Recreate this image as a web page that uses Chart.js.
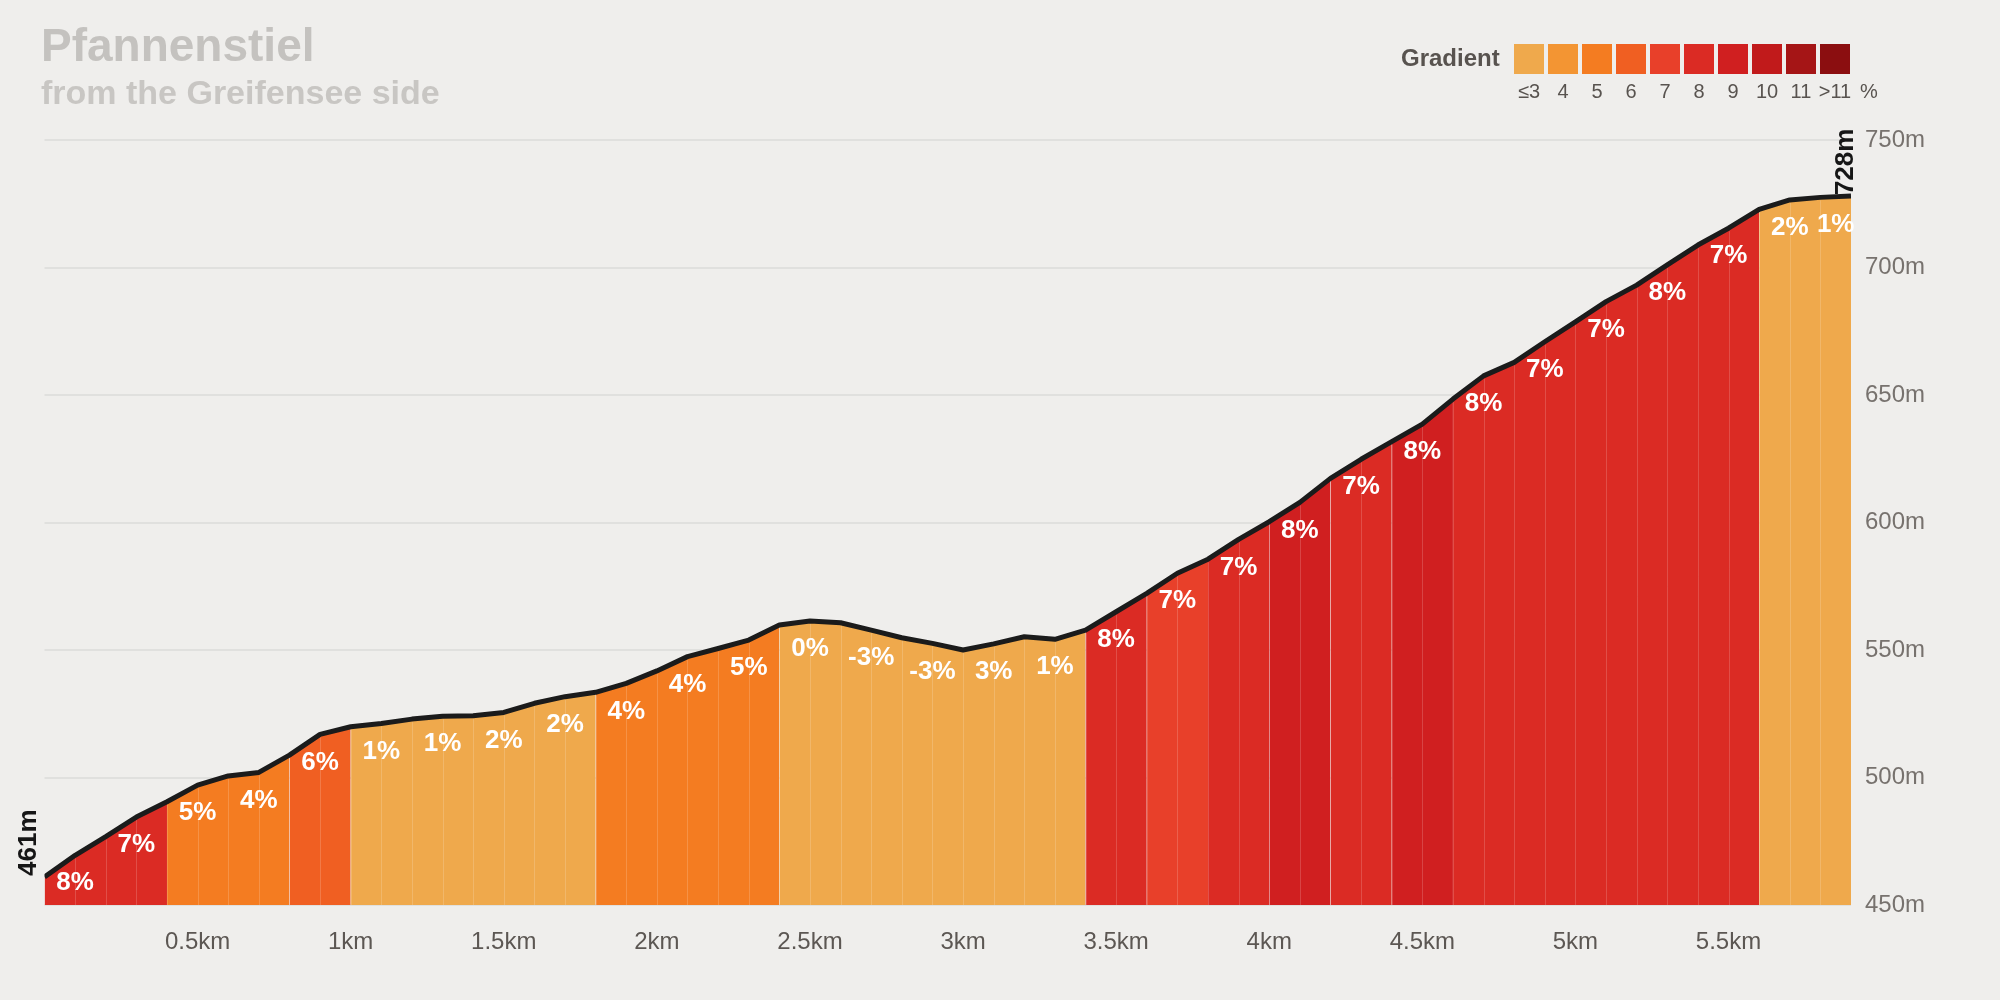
<!DOCTYPE html>
<html>
<head>
<meta charset="utf-8">
<title>Pfannenstiel</title>
<script src="https://cdn.jsdelivr.net/npm/chart.js@4.4.1/dist/chart.umd.min.js"></script>
<style>
    html, body { margin: 0; padding: 0; background: #efeeec; }
    #wrap {
        position: relative;
        width: 2000px;
        height: 1000px;
        font-family: 'Liberation Sans', Arial, Helvetica, sans-serif;
    }
    #profile { position: absolute; left: 0; top: 0; }
    .title, .subtitle, .legend-name, .legend-label {
        position: absolute;
        white-space: nowrap;
        font-weight: bold;
    }
    .title { left: 41px; top: 22px; font-size: 46px; line-height: 46px; color: #c4c2bf; }
    .subtitle { left: 41px; top: 75px; font-size: 34px; line-height: 34px; color: #c8c6c3; }
    .legend-name { left: 1401px; top: 46px; font-size: 24px; line-height: 24px; color: #58534f; }
    .legend-box { position: absolute; top: 44px; width: 30px; height: 30px; }
    .legend-label {
        top: 81px; width: 34px; text-align: center;
        font-size: 20px; line-height: 20px; font-weight: normal; color: #58534f;
    }
</style>
</head>
<body>
<div id="wrap">
    <canvas id="profile" width="2000" height="1000"></canvas>
    <div class="title">Pfannenstiel</div>
    <div class="subtitle">from the Greifensee side</div>
    <div class="legend-name">Gradient</div>
    <div id="legend"></div>
</div>
<script>
// ===== data =====

// distance along the climb (km), one point every 100 m
const distanceKm = [
    0.0, 0.1, 0.2, 0.3, 0.4, 0.5, 0.6, 0.7, 0.8, 0.9,
    1.0, 1.1, 1.2, 1.3, 1.4, 1.5, 1.6, 1.7, 1.8, 1.9,
    2.0, 2.1, 2.2, 2.3, 2.4, 2.5, 2.6, 2.7, 2.8, 2.9,
    3.0, 3.1, 3.2, 3.3, 3.4, 3.5, 3.6, 3.7, 3.8, 3.9,
    4.0, 4.1, 4.2, 4.3, 4.4, 4.5, 4.6, 4.7, 4.8, 4.9,
    5.0, 5.1, 5.2, 5.3, 5.4, 5.5, 5.6, 5.7, 5.8, 5.9
];

// elevation (m)
const elevationM = [
    461, 469.5, 476.8, 484.5, 490.5, 497, 500.6, 502, 508.8, 516.9,
    519.9, 521.2, 522.9, 524, 524.2, 525.5, 529.1, 531.7, 533.4, 536.9,
    541.8, 547.4, 550.6, 553.9, 559.8, 561.4, 560.7, 557.8, 554.8, 552.6,
    550, 552.4, 555.2, 554.2, 557.8, 565, 572.2, 580.1, 585.6, 593.4,
    600.3, 607.9, 617.3, 624.8, 631.7, 638.6, 648.4, 657.5, 662.8, 670.9,
    678.7, 686.6, 693.1, 701, 708.8, 715.4, 722.8, 726.5, 727.5, 728
];

// gradient sections
const sectionStartKm = [0, 0.2, 0.4, 0.6, 0.8, 1.0, 1.2, 1.4, 1.6, 1.8, 2.0, 2.2, 2.4, 2.6, 2.8,
                        3.0, 3.2, 3.4, 3.6, 3.8, 4.0, 4.2, 4.4, 4.6, 4.8, 5.0, 5.2, 5.4, 5.6, 5.8];
const sectionEndKm   = [0.2, 0.4, 0.6, 0.8, 1.0, 1.2, 1.4, 1.6, 1.8, 2.0, 2.2, 2.4, 2.6, 2.8, 3.0,
                        3.2, 3.4, 3.6, 3.8, 4.0, 4.2, 4.4, 4.6, 4.8, 5.0, 5.2, 5.4, 5.6, 5.8, 5.9];
const sectionGrade   = [8, 7, 5, 4, 6, 1, 1, 2, 2, 4, 4, 5, 0, -3, -3,
                        3, 1, 8, 7, 7, 8, 7, 8, 8, 7, 7, 8, 7, 2, 1];
const sectionClass   = ['8', '8', '5', '5', '6', '≤3', '≤3', '≤3', '≤3', '5', '5', '5', '≤3', '≤3', '≤3',
                        '≤3', '≤3', '8', '7', '8', '9', '8', '9', '8', '8', '8', '8', '8', '≤3', '≤3'];

// legend
const legendLabels = ['≤3', '4', '5', '6', '7', '8', '9', '10', '11', '>11'];
const legendColors = ['#efa94c', '#f39533', '#f47c21', '#f05f22', '#e8402a',
                      '#db2b24', '#d01f20', '#c11a1b', '#a51516', '#8b0e10'];

// axes
const xTickKm = [0.5, 1, 1.5, 2, 2.5, 3, 3.5, 4, 4.5, 5, 5.5];
const yTickM = [450, 500, 550, 600, 650, 700, 750];

const FONT = "'Liberation Sans', Arial, Helvetica, sans-serif";

// ===== helpers =====

function classColor(cls) {
    return legendColors[legendLabels.indexOf(cls)];
}

function colorAtKm(km) {
    for (let i = 0; i < sectionStartKm.length; i++) {
        if (km >= sectionStartKm[i] - 1e-6 && km < sectionEndKm[i] - 1e-6) {
            return classColor(sectionClass[i]);
        }
    }
    return classColor(sectionClass[sectionClass.length - 1]);
}

function elevationAt(km) {
    for (let i = 1; i < distanceKm.length; i++) {
        if (km <= distanceKm[i] + 1e-6) {
            const t = (km - distanceKm[i - 1]) / (distanceKm[i] - distanceKm[i - 1]);
            return elevationM[i - 1] + t * (elevationM[i] - elevationM[i - 1]);
        }
    }
    return elevationM[elevationM.length - 1];
}

// legend boxes
const legendEl = document.getElementById('legend');
legendLabels.forEach((label, i) => {
    const box = document.createElement('div');
    box.className = 'legend-box';
    box.style.left = (1514 + i * 34) + 'px';
    box.style.background = legendColors[i];
    legendEl.appendChild(box);

    const txt = document.createElement('div');
    txt.className = 'legend-label';
    txt.style.left = (1512 + i * 34) + 'px';
    txt.textContent = label;
    legendEl.appendChild(txt);
});
const pct = document.createElement('div');
pct.className = 'legend-label';
pct.style.left = (1512 + 10 * 34) + 'px';
pct.textContent = '%';
legendEl.appendChild(pct);

// ===== decorations: sub-lines, gradient labels, start/end heights =====
const profileDecor = {
    id: 'profileDecor',
    afterDatasetsDraw(chart) {
        const { ctx, chartArea, scales: { x, y } } = chart;
        ctx.save();

        // thin lines every 100 m inside the filled area
        ctx.strokeStyle = 'rgba(255,255,255,0.17)';
        ctx.lineWidth = 1;
        for (let i = 1; i < distanceKm.length - 1; i++) {
            const px = Math.round(x.getPixelForValue(distanceKm[i])) + 0.5;
            ctx.beginPath();
            ctx.moveTo(px, y.getPixelForValue(elevationM[i]) + 3);
            ctx.lineTo(px, chartArea.bottom);
            ctx.stroke();
        }

        // gradient labels
        ctx.fillStyle = '#ffffff';
        ctx.font = `bold 26px ${FONT}`;
        ctx.textAlign = 'center';
        ctx.textBaseline = 'middle';
        sectionGrade.forEach((g, i) => {
            const mid = (sectionStartKm[i] + sectionEndKm[i]) / 2;
            const px = x.getPixelForValue(mid);
            const py = y.getPixelForValue(elevationAt(mid)) + 28;
            ctx.fillText(g + '%', px, py);
        });

        // start / end elevation, rotated
        ctx.fillStyle = '#161616';
        ctx.font = `bold 26px ${FONT}`;
        ctx.textAlign = 'left';
        ctx.textBaseline = 'alphabetic';
        const ends = [
            { i: 0, dx: -9 },
            { i: distanceKm.length - 1, dx: 2 }
        ];
        ends.forEach(({ i, dx }) => {
            ctx.save();
            ctx.translate(x.getPixelForValue(distanceKm[i]) + dx, y.getPixelForValue(elevationM[i]) - 1);
            ctx.rotate(-Math.PI / 2);
            ctx.fillText(Math.round(elevationM[i]) + 'm', 0, 0);
            ctx.restore();
        });

        ctx.restore();
    }
};

const points = distanceKm.map((km, i) => ({ x: km, y: elevationM[i] }));

new Chart(document.getElementById('profile'), {
    type: 'line',
    data: {
        datasets: [
            {
                // outline
                data: points,
                borderColor: '#1b1b1b',
                borderWidth: 5,
                borderJoinStyle: 'round',
                pointRadius: 0,
                fill: false,
                tension: 0
            },
            {
                // coloured area
                data: points,
                borderWidth: 0,
                pointRadius: 0,
                backgroundColor: classColor('≤3'),
                fill: 'start',
                tension: 0,
                segment: {
                    backgroundColor: c => colorAtKm(distanceKm[c.p0DataIndex])
                }
            }
        ]
    },
    options: {
        responsive: false,
        animation: false,
        devicePixelRatio: 1,
        events: [],
        layout: { padding: { left: 44.5, top: 140, right: 0, bottom: 0 } },
        plugins: {
            legend: { display: false },
            tooltip: { enabled: false }
        },
        scales: {
            x: {
                type: 'linear',
                min: 0,
                max: 5.9,
                grid: { display: false },
                border: { display: false },
                afterBuildTicks: s => { s.ticks = xTickKm.map(v => ({ value: v })); },
                afterFit: s => { s.height = 95; },
                ticks: {
                    autoSkip: false,
                    maxRotation: 0,
                    padding: 15,
                    color: '#5c5753',
                    font: { size: 24, family: FONT },
                    callback: v => v + 'km'
                }
            },
            y: {
                position: 'right',
                min: 450,
                max: 750,
                z: 1,
                grid: { color: 'rgba(0,0,0,0.06)', lineWidth: 2, drawTicks: false },
                border: { display: false },
                afterBuildTicks: s => { s.ticks = yTickM.map(v => ({ value: v })); },
                afterFit: s => { s.width = 149; },
                ticks: {
                    padding: 14,
                    color: '#77726e',
                    font: { size: 24, family: FONT },
                    callback: v => v + 'm'
                }
            }
        }
    },
    plugins: [profileDecor]
});
</script>
</body>
</html>
